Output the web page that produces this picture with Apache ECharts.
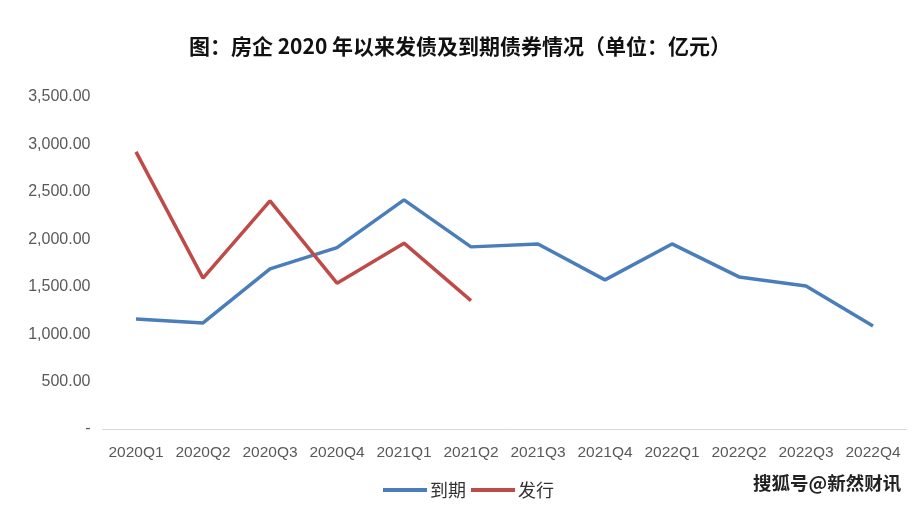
<!DOCTYPE html>
<html><head><meta charset="utf-8">
<script src="https://cdn.jsdelivr.net/npm/echarts@6/dist/echarts.min.js"></script>
<style>html,body{margin:0;padding:0;background:#fff}#c{width:920px;height:509px}</style>
</head><body><div id="c"></div>
<script>
const categories = ['2020Q1','2020Q2','2020Q3','2020Q4','2021Q1','2021Q2','2021Q3','2021Q4','2022Q1','2022Q2','2022Q3','2022Q4'];
const maturity = [1160,1118,1688,1912,2416,1920,1951,1572,1951,1603,1508,1086];
const issuance = [2922,1590,2405,1537,1959,1353,null,null,null,null,null,null];
const titleText = '图：房企 2020 年以来发债及到期债券情况（单位：亿元）';
const watermark = '搜狐号@新然财讯';

const chart = echarts.init(document.getElementById('c'));
chart.setOption({
  backgroundColor:'#fff',
  animation:false,
  title:{text:titleText,left:'center',top:31,textStyle:{fontSize:21,fontWeight:'bold',color:'#111',fontFamily:'Noto Sans CJK SC'}},
  legend:{bottom:5,left:378,itemWidth:44,itemHeight:4,itemGap:5,icon:'rect',
    textStyle:{fontSize:18,color:'#333',padding:[0,0,0,-2],fontFamily:'Noto Sans CJK SC'},data:['到期','发行']},
  grid:{left:102.5,right:13.5,top:97,bottom:80,containLabel:false},
  xAxis:{type:'category',data:categories,boundaryGap:true,
    axisLine:{lineStyle:{color:'#d9d9d9',width:1}},axisTick:{show:false},
    axisLabel:{interval:0,hideOverlap:false,color:'#595959',fontSize:15.5,margin:16,fontFamily:'Liberation Sans'}},
  yAxis:{type:'value',min:0,max:3500,interval:500,
    axisLine:{show:false},axisTick:{show:false},splitLine:{show:false},
    axisLabel:{color:'#595959',fontSize:16,margin:12,fontFamily:'Liberation Sans',
      formatter:v=>v===0?'-':v.toLocaleString('en-US',{minimumFractionDigits:2,maximumFractionDigits:2})}},
  series:[
    {name:'到期',type:'line',data:maturity,symbol:'none',lineStyle:{width:3.5,color:'#4a7ebb'},itemStyle:{color:'#4a7ebb'}},
    {name:'发行',type:'line',data:issuance,symbol:'none',lineStyle:{width:3.5,color:'#be4b48'},itemStyle:{color:'#be4b48'}}
  ],
  graphic:[{type:'text',left:753,top:474,style:{text:watermark,fontSize:18.5,fontWeight:'bold',fill:'#222',fontFamily:'Noto Sans CJK SC'}}]
});
</script></body></html>
